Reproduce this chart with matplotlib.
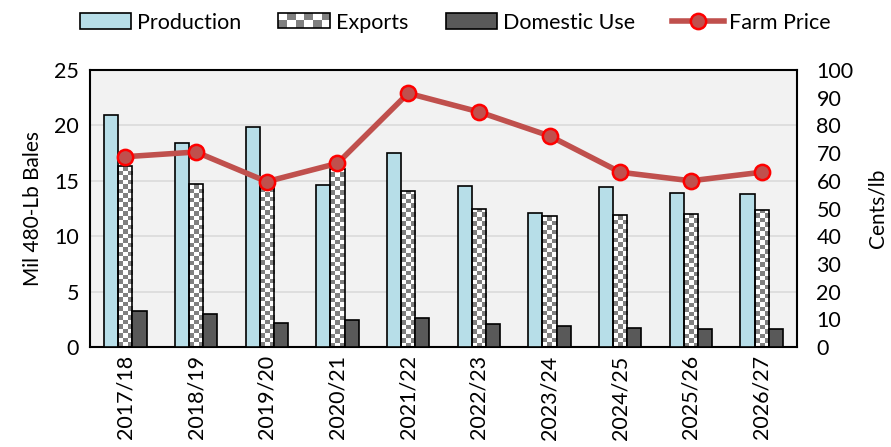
import numpy as np
import matplotlib.pyplot as plt
from matplotlib.colors import ListedColormap
from matplotlib.patches import Rectangle
from matplotlib.legend_handler import HandlerBase

plt.rcParams['font.family'] = ['Lato', 'DejaVu Sans']

years = ['2017/18', '2018/19', '2019/20', '2020/21', '2021/22',
         '2022/23', '2023/24', '2024/25', '2025/26', '2026/27']
production = [20.9, 18.4, 19.9, 14.6, 17.5, 14.5, 12.1, 14.4, 13.9, 13.8]
exports = [16.3, 14.7, 14.8, 16.1, 14.1, 12.5, 11.8, 11.9, 12.0, 12.4]
domestic = [3.25, 3.0, 2.2, 2.4, 2.6, 2.1, 1.9, 1.75, 1.6, 1.6]
farm_price = [68.7, 70.4, 59.7, 66.3, 91.6, 84.9, 76.2, 63.1, 60.0, 63.1]

DPI = 100
fig = plt.figure(figsize=(8.91, 4.47), dpi=DPI)
ax = fig.add_axes([0.101, 0.2237, 0.7935, 0.6197])
ax.set_facecolor('#F2F2F2')

x = np.arange(len(years))
w = 0.2
fs = 15.5
lfs = 14.5


class CheckerHandler(HandlerBase):
    # legend swatch drawn as small checkerboard
    def create_artists(self, legend, orig, xd, yd, width, height, fontsize, trans):
        arts = [Rectangle((xd, yd), width, height, facecolor='white', edgecolor='none', transform=trans)]
        nc, nr = 6, 2
        cw, ch = width / nc, height / nr
        for i in range(nc):
            for j in range(nr):
                if (i + j) % 2 == 0:
                    arts.append(Rectangle((xd + i * cw, yd + j * ch), cw, ch, facecolor='#808080',
                                          edgecolor='none', transform=trans))
        arts.append(Rectangle((xd, yd), width, height, facecolor='none', edgecolor='black', lw=1.2,
                              transform=trans))
        return arts


b1 = ax.bar(x - w, production, w, color='#B7DEE8', edgecolor='black', lw=1.2, zorder=3, label='Production')
b2 = ax.bar(x, exports, w, facecolor='none', edgecolor='black', lw=1.2, zorder=3, label='Exports')
b3 = ax.bar(x + w, domestic, w, color='#595959', edgecolor='black', lw=1.2, zorder=3, label='Domestic Use')

ax.set_xlim(-0.5, len(years) - 0.5)
ax.set_ylim(0, 25)
ax.set_yticks(range(0, 26, 5))
ax.yaxis.grid(True, color='#DCDCDC', lw=1.3, zorder=0)
ax.set_axisbelow(True)

# checkerboard fill for exports
fig.canvas.draw()
cell = 4.5
for p in b2.patches:
    x0, y0 = p.get_x(), p.get_y()
    x1, y1 = x0 + p.get_width(), y0 + p.get_height()
    (px0, py0), (px1, py1) = ax.transData.transform([(x0, y0), (x1, y1)])
    nc = max(1, int(round((px1 - px0) / cell)))
    nr = max(1, int(round((py1 - py0) / cell)))
    board = (np.indices((nr, nc)).sum(axis=0) % 2).astype(float)
    im = ax.imshow(board, cmap=ListedColormap(['white', '#808080']),
                   extent=(x0, x1, y0, y1), aspect='auto', interpolation='nearest', zorder=2.5)
    im.set_clip_path(p)
ax.set_xlim(-0.5, len(years) - 0.5)
ax.set_ylim(0, 25)

ax.set_xticks(x)
ax.set_xticklabels(years, rotation=90, fontsize=fs)
ax.tick_params(axis='both', length=0, labelsize=fs)
ax.tick_params(axis='y', pad=8)
ax.tick_params(axis='x', pad=6)
ax.set_ylabel('Mil 480-Lb Bales', fontsize=lfs + 0.5, labelpad=8)
for s in ax.spines.values():
    s.set_color('black')
    s.set_linewidth(1.5)

ax2 = ax.twinx()
ln, = ax2.plot(x, farm_price, color='#C0504D', lw=4, marker='o', ms=11,
               mfc='#C0504D', mec='#FF0000', mew=1.8, zorder=5, label='Farm Price')
ax2.set_ylim(0, 100)
ax2.set_yticks(range(0, 101, 10))
ax2.tick_params(axis='y', length=0, labelsize=fs, pad=14)
ax2.set_ylabel('Cents/lb', fontsize=lfs + 0.5, labelpad=10)
for s in ax2.spines.values():
    s.set_visible(False)

fig.legend([b1, b2, b3, ln], ['Production', 'Exports', 'Domestic Use', 'Farm Price'],
           loc='upper center', bbox_to_anchor=(0.511, 1.015), ncol=4, frameon=False,
           fontsize=fs, handlelength=2.4, handleheight=0.75, handletextpad=0.25, columnspacing=1.75,
           handler_map={b2: CheckerHandler()})

fig.savefig('out.png', dpi=DPI)
